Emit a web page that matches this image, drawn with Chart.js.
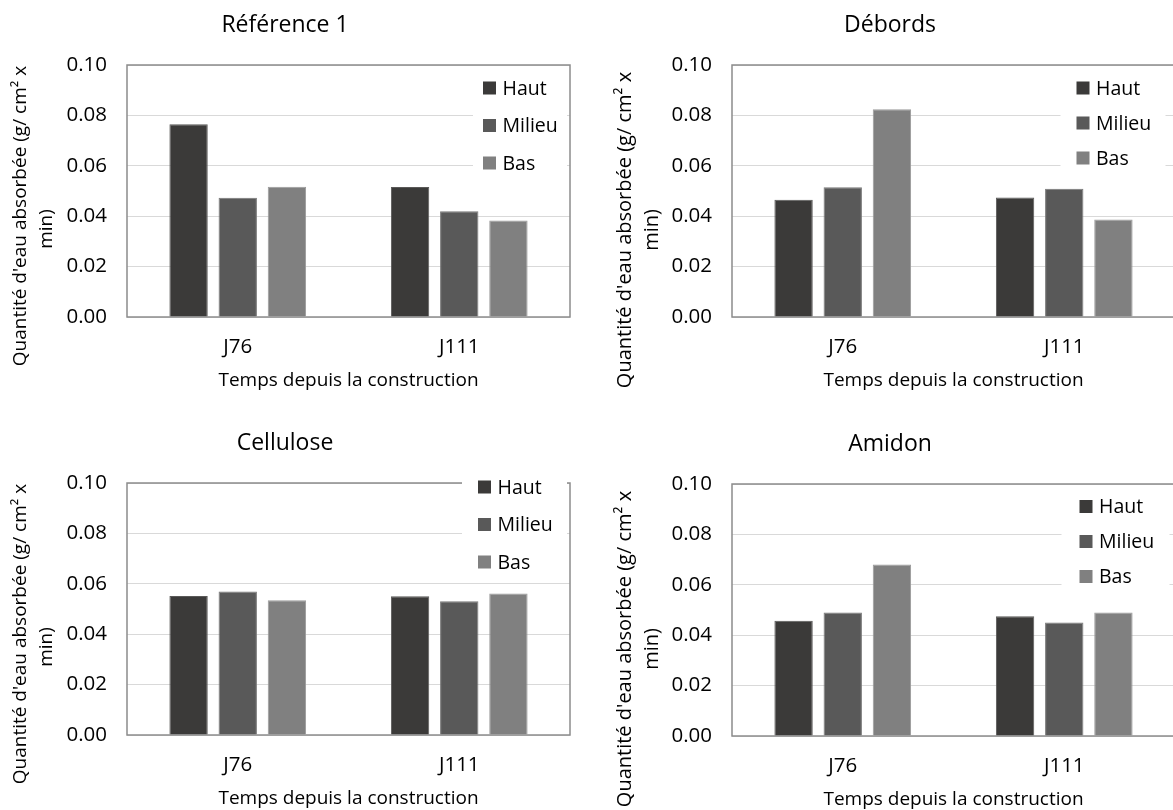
<!DOCTYPE html>
<html><head><meta charset="utf-8">
<script src="https://cdn.jsdelivr.net/npm/chart.js@4.4.1/dist/chart.umd.min.js"></script>
<style>
html,body{margin:0;padding:0;background:#fff;overflow:hidden;width:1173px;height:810px;position:relative;}
.box{position:absolute;}
canvas{display:block;}
</style></head><body>
<div class="box" style="left:0px;top:0px;"><canvas id="c1" width="572" height="400"></canvas></div>
<div class="box" style="left:605px;top:0px;"><canvas id="c2" width="572" height="400"></canvas></div>
<div class="box" style="left:0px;top:418px;"><canvas id="c3" width="572" height="400"></canvas></div>
<div class="box" style="left:605px;top:419px;"><canvas id="c4" width="572" height="400"></canvas></div>
<script>
// ---- data ----
const categories = ['J76', 'J111'];
const seriesNames = ['Haut', 'Milieu', 'Bas'];
const yTickLabels = ['0.00', '0.02', '0.04', '0.06', '0.08', '0.10'];
const chartTitles = ['Référence 1', 'Débords', 'Cellulose', 'Amidon'];
const xAxisTitle = 'Temps depuis la construction';
const yAxisTitle = ["Quantité d'eau absorbée (g/ cm² x", 'min)'];

const ref1Haut   = [0.0765, 0.0516];
const ref1Milieu = [0.0473, 0.0420];
const ref1Bas    = [0.0517, 0.0383];

const debHaut    = [0.0465, 0.0474];
const debMilieu  = [0.0515, 0.0509];
const debBas     = [0.0824, 0.0387];

const celHaut    = [0.0552, 0.0551];
const celMilieu  = [0.0569, 0.0531];
const celBas     = [0.0535, 0.0562];

const amiHaut    = [0.0457, 0.0475];
const amiMilieu  = [0.0490, 0.0450];
const amiBas     = [0.0681, 0.0490];

// ---- styling ----
const FONT = "'Open Sans', 'Noto Sans', sans-serif";
Chart.defaults.font.family = FONT;
Chart.defaults.color = '#000';
const fills   = ['#3b3a39', '#595959', '#808080'];
const borders = ['#5a5958', '#777777', '#9a9a9a'];

const plotBox = {
  id: 'plotBox',
  beforeDatasetsDraw(chart) {
    const a = chart.chartArea, ctx = chart.ctx;
    ctx.save();
    ctx.strokeStyle = '#8c8c8c';
    ctx.lineWidth = 1.5;
    ctx.strokeRect(a.left, a.top, a.right - a.left, a.bottom - a.top);
    ctx.restore();
  }
};

const customLegend = {
  id: 'customLegend',
  afterDatasetsDraw(chart, args, o) {
    const a = chart.chartArea, ctx = chart.ctx;
    ctx.save();
    ctx.fillStyle = '#fff';
    ctx.fillRect(a.right - o.boxL, a.top + o.boxT, o.boxL - o.boxR, o.boxB - o.boxT);
    ctx.font = '19.5px ' + FONT;
    ctx.textBaseline = 'middle';
    ctx.textAlign = 'left';
    chart.data.datasets.forEach((ds, i) => {
      const cy = a.top + o.y0 + i * o.gap;
      const sx = a.right - o.sx;
      ctx.fillStyle = ds.backgroundColor;
      ctx.fillRect(sx, cy - 6.5, 13, 13);
      ctx.fillStyle = '#000';
      ctx.fillText(ds.label, sx + 19.5, cy + 1);
    });
    ctx.restore();
  }
};

const yTitle = {
  id: 'yTitle',
  afterDraw(chart, args, o) {
    const ctx = chart.ctx, a = chart.chartArea;
    ctx.save();
    ctx.font = o.size + 'px ' + FONT;
    ctx.fillStyle = '#000';
    ctx.textAlign = 'center';
    ctx.textBaseline = 'middle';
    yAxisTitle.forEach((t, i) => {
      ctx.save();
      ctx.translate(o.x[i], a.top + o.dy[i]);
      ctx.rotate(-Math.PI / 2);
      ctx.fillText(t, 0, 0);
      ctx.restore();
    });
    ctx.restore();
  }
};

function makeChart(id, title, haut, milieu, bas, legendOpts, yTitleOpts) {
  const seriesValues = [haut, milieu, bas];
  return new Chart(document.getElementById(id), {
    type: 'bar',
    data: {
      labels: categories,
      datasets: seriesNames.map((n, i) => ({
        label: n,
        data: seriesValues[i],
        backgroundColor: fills[i],
        borderColor: borders[i],
        borderWidth: 1,
        categoryPercentage: 0.666,
        barPercentage: 0.78
      }))
    },
    options: {
      responsive: false,
      animation: false,
      layout: { padding: { left: 0, right: 2, top: 0, bottom: 0 } },
      plugins: {
        legend: { display: false },
        tooltip: { enabled: false },
        title: {
          display: true, text: title,
          font: { size: 23, weight: 'normal', family: FONT, lineHeight: 1.2 },
          color: '#000',
          padding: { top: 11.2, bottom: 26.2 }
        },
        customLegend: legendOpts,
        yTitle: yTitleOpts
      },
      scales: {
        x: {
          ticks: { padding: 18, color: '#000', font: { size: 20.5, family: FONT } },
          grid: { display: false, drawTicks: false },
          border: { display: false },
          title: { display: true, text: xAxisTitle, color: '#000',
                   font: { size: 19, family: FONT, lineHeight: 1.2 },
                   padding: { top: 0, bottom: 7.6 } },
          afterFit(s) { s.height = 83; }
        },
        y: {
          min: 0, max: 0.1,
          ticks: { stepSize: 0.02, padding: 20, color: '#000',
                   font: { size: 20.5, family: FONT },
                   callback: (v, i) => yTickLabels[i] },
          grid: { color: '#d9d9d9', lineWidth: 1, drawTicks: false },
          border: { display: false },
          afterFit(s) { s.width = 127; }
        }
      }
    },
    plugins: [plotBox, customLegend, yTitle]
  });
}

makeChart('c1', chartTitles[0], ref1Haut, ref1Milieu, ref1Bas,
  { sx: 87, y0: 23, gap: 37.5, boxL: 97, boxR: 3, boxT: 5, boxB: 115 },
  { size: 19, x: [21, 47], dy: [151, 164] });
makeChart('c2', chartTitles[1], debHaut, debMilieu, debBas,
  { sx: 98.5, y0: 23, gap: 35, boxL: 114.5, boxR: 9.5, boxT: 5, boxB: 110 },
  { size: 20, x: [20, 47], dy: [165, 165] });
makeChart('c3', chartTitles[2], celHaut, celMilieu, celBas,
  { sx: 92, y0: 4, gap: 37.5, boxL: 108, boxR: 3, boxT: -14, boxB: 97 },
  { size: 19, x: [21, 47], dy: [151, 164] });
makeChart('c4', chartTitles[3], amiHaut, amiMilieu, amiBas,
  { sx: 95.5, y0: 22.5, gap: 35, boxL: 113.5, boxR: 5.5, boxT: 5, boxB: 110 },
  { size: 20, x: [20, 47], dy: [165, 165] });
</script>
</body></html>
